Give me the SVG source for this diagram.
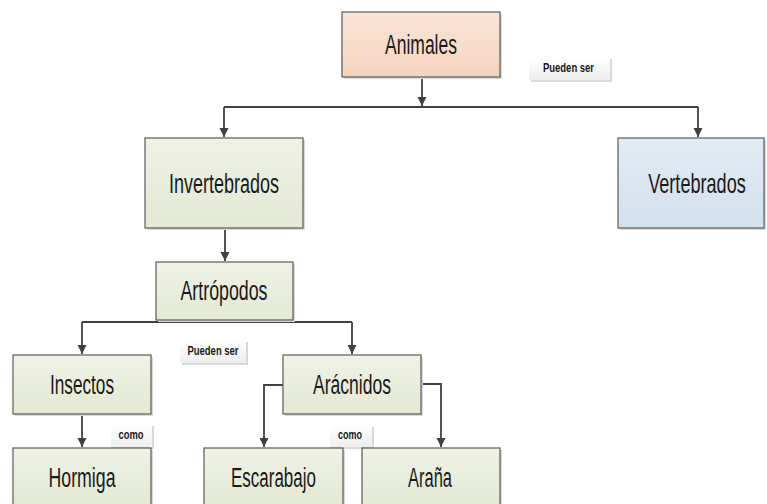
<svg xmlns="http://www.w3.org/2000/svg" width="767" height="504" viewBox="0 0 767 504">
<defs>
<linearGradient id="gPeach" x1="0" y1="0" x2="0" y2="1"><stop offset="0" stop-color="#fbe5d8"/><stop offset="1" stop-color="#f5d3bd"/></linearGradient>
<linearGradient id="gGreen" x1="0" y1="0" x2="0" y2="1"><stop offset="0" stop-color="#eff2e6"/><stop offset="1" stop-color="#e3e9d3"/></linearGradient>
<linearGradient id="gBlue" x1="0" y1="0" x2="0" y2="1"><stop offset="0" stop-color="#e3ebf4"/><stop offset="1" stop-color="#d3e0ee"/></linearGradient>
<linearGradient id="gLab" x1="0" y1="0" x2="0" y2="1"><stop offset="0" stop-color="#ffffff"/><stop offset="1" stop-color="#eeeeee"/></linearGradient>
<marker id="arr" viewBox="0 0 10 10" refX="10" refY="5" markerWidth="9" markerHeight="11" markerUnits="userSpaceOnUse" orient="auto"><path d="M0,0 L10,5 L0,10 z" fill="#404040"/></marker>
</defs>
<style>
.box{stroke:#5a5a5a;stroke-width:1.2}
.sh{fill:#d9d9d9}
.t{font-family:"Liberation Sans",Arial,sans-serif;font-size:27px;fill:#1a1a1a;text-anchor:middle}
.lt{font-family:"Liberation Sans",Arial,sans-serif;font-size:12px;font-weight:bold;fill:#1a1a1a;text-anchor:middle}
.lb{fill:url(#gLab)}
.c{fill:none;stroke:#404040;stroke-width:1.8}
</style>
<rect width="767" height="504" fill="#ffffff"/>
<g id="connectors">
<path class="c" d="M422,77 V106" marker-end="url(#arr)"/>
<path class="c" d="M224,107 H698"/>
<path class="c" d="M224,107 V137" marker-end="url(#arr)"/>
<path class="c" d="M698,107 V137" marker-end="url(#arr)"/>
<path class="c" d="M225,228 V261" marker-end="url(#arr)"/>
<path class="c" d="M82,322 H352"/>
<path class="c" d="M82,322 V354" marker-end="url(#arr)"/>
<path class="c" d="M352,322 V354" marker-end="url(#arr)"/>
<path class="c" d="M82,414 V447" marker-end="url(#arr)"/>
<path class="c" d="M283,385 H264 V447" marker-end="url(#arr)"/>
<path class="c" d="M421,384 H441 V447" marker-end="url(#arr)"/>
</g>
<g id="animales"><rect class="sh" x="344" y="14" width="158" height="65"/><rect class="box" x="342" y="12" width="158" height="65" fill="url(#gPeach)"/><text class="t" x="421" y="54" textLength="72" lengthAdjust="spacingAndGlyphs">Animales</text></g>
<g id="label1"><rect class="sh" x="531" y="59" width="81" height="23"/><rect class="lb" x="529" y="57" width="81" height="23"/><text class="lt" x="568.5" y="72" textLength="51" lengthAdjust="spacingAndGlyphs">Pueden ser</text></g>
<g id="invertebrados"><rect class="sh" x="147" y="140" width="158" height="90"/><rect class="box" x="145" y="138" width="158" height="90" fill="url(#gGreen)"/><text class="t" x="224" y="193" textLength="110" lengthAdjust="spacingAndGlyphs">Invertebrados</text></g>
<g id="vertebrados"><rect class="sh" x="620" y="140" width="146" height="90"/><rect class="box" x="618" y="138" width="146" height="90" fill="url(#gBlue)"/><text class="t" transform="translate(697,193) scale(0.8,1)" x="0" y="0" textLength="122" lengthAdjust="spacingAndGlyphs">Vertebrados</text></g>
<g id="artropodos"><rect class="sh" x="158" y="264" width="137" height="58"/><rect class="box" x="156" y="262" width="137" height="58" fill="url(#gGreen)"/><text class="t" x="224" y="300" textLength="87" lengthAdjust="spacingAndGlyphs">Artrópodos</text></g>
<g id="label2"><rect class="sh" x="182" y="342" width="66" height="23"/><rect class="lb" x="180" y="340" width="66" height="23"/><text class="lt" x="213" y="355" textLength="51" lengthAdjust="spacingAndGlyphs">Pueden ser</text></g>
<g id="insectos"><rect class="sh" x="15" y="357" width="138" height="59"/><rect class="box" x="13" y="355" width="138" height="59" fill="url(#gGreen)"/><text class="t" x="82" y="394" textLength="64" lengthAdjust="spacingAndGlyphs">Insectos</text></g>
<g id="aracnidos"><rect class="sh" x="285" y="357" width="138" height="59"/><rect class="box" x="283" y="355" width="138" height="59" fill="url(#gGreen)"/><text class="t" x="352" y="394" textLength="78" lengthAdjust="spacingAndGlyphs">Arácnidos</text></g>
<g id="label3"><rect class="sh" x="113" y="426" width="41" height="23"/><rect class="lb" x="111" y="424" width="41" height="23"/><text class="lt" x="131" y="439" textLength="25" lengthAdjust="spacingAndGlyphs">como</text></g>
<g id="label4"><rect class="sh" x="332" y="427" width="42" height="22"/><rect class="lb" x="330" y="425" width="42" height="22"/><text class="lt" x="350" y="439" textLength="24" lengthAdjust="spacingAndGlyphs">como</text></g>
<g id="hormiga"><rect class="sh" x="15" y="450" width="138" height="60"/><rect class="box" x="13" y="448" width="138" height="60" fill="url(#gGreen)"/><text class="t" x="82" y="487" textLength="67" lengthAdjust="spacingAndGlyphs">Hormiga</text></g>
<g id="escarabajo"><rect class="sh" x="206" y="450" width="139" height="60"/><rect class="box" x="204" y="448" width="139" height="60" fill="url(#gGreen)"/><text class="t" x="273.5" y="487" textLength="85" lengthAdjust="spacingAndGlyphs">Escarabajo</text></g>
<g id="arana"><rect class="sh" x="364" y="450" width="138" height="60"/><rect class="box" x="362" y="448" width="138" height="60" fill="url(#gGreen)"/><text class="t" x="430" y="487" textLength="44" lengthAdjust="spacingAndGlyphs">Araña</text></g>
</svg>
